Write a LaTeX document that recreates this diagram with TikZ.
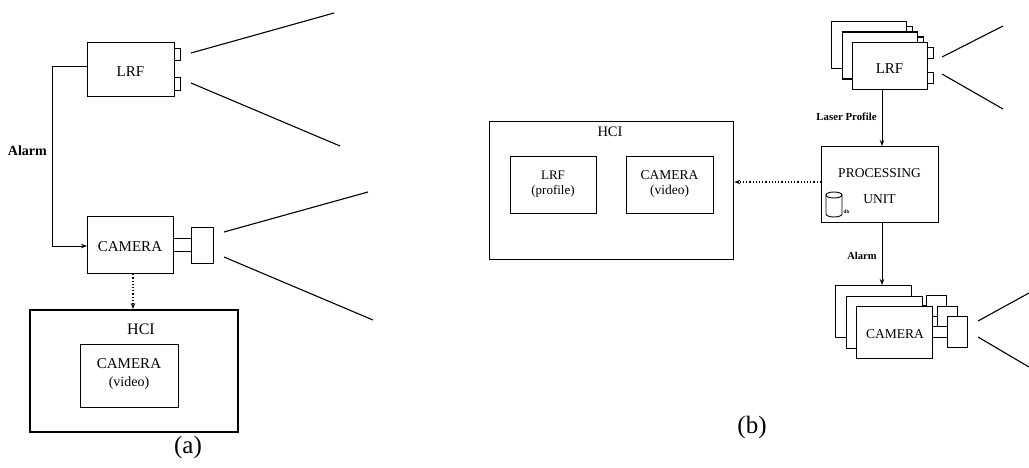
\documentclass[tikz,border=0pt]{standalone}
\usepackage{fontspec}
\setmainfont{Liberation Serif}
\usetikzlibrary{arrows.meta}
\newcommand\fsz[1]{\fontsize{#1}{#1}\selectfont}
\tikzset{
  unitbox/.style={draw, line width=1.2pt, fill=white, inner sep=0pt, anchor=north west},
  lensbox/.style={draw, line width=1.1pt, fill=white, inner sep=0pt, anchor=north west},
  hcibox/.style={draw, line width=1.8pt, fill=white, inner sep=0pt, anchor=north west},
  beam/.style={line width=1.1pt},
  link/.style={line width=0.9pt, -{Stealth[length=6pt,width=4.5pt]}},
  feed/.style={line width=1.1pt, dash pattern=on 1.2pt off 2pt, -{Stealth[length=6pt,width=4.5pt]}},
  lbl/.style={inner sep=0pt, align=center},
}
\begin{document}
\begin{tikzpicture}[x=1pt,y=-1pt]
\useasboundingbox (0,0) rectangle (1029,468);

% ---------------- (a) single sensor pair ----------------
% laser range finder
\node[unitbox, minimum width=87pt, minimum height=54pt] (lrfA) at (87,42) {};
\node[lbl, font=\fsz{15}] at (130.5,72) {LRF};
\node[lensbox, minimum width=6pt, minimum height=12pt] (lrfAl1) at (174,48) {};
\node[lensbox, minimum width=6pt, minimum height=13pt] (lrfAl2) at (174,77) {};
\coordinate (bA1s) at (191,53);  \coordinate (bA1e) at (334,13);
\coordinate (bA2s) at (191,83);  \coordinate (bA2e) at (340,146);
\draw[beam] (bA1s) -- (bA1e);
\draw[beam] (bA2s) -- (bA2e);

% camera
\node[unitbox, minimum width=86pt, minimum height=57pt] (camA) at (87,216) {};
\node[lbl, font=\fsz{15}] at (130,247) {CAMERA};
\node[lensbox, minimum width=18pt, minimum height=13pt] (camAc) at (173,238) {};
\node[lensbox, minimum width=22pt, minimum height=36pt] (camAl) at (191,227) {};
\coordinate (bA3s) at (224,232);  \coordinate (bA3e) at (368,192);
\coordinate (bA4s) at (224,257);  \coordinate (bA4e) at (373,320);
\draw[beam] (bA3s) -- (bA3e);
\draw[beam] (bA4s) -- (bA4e);

% alarm line from range finder to camera
\coordinate (alA1) at (52,66);
\coordinate (alA2) at (52,246);
\draw[link] (lrfA.west |- alA1) -- (alA1) -- (alA2) -- (camA.west |- alA2);
\node[lbl, font=\fsz{14}\bfseries, anchor=east] (alarmA) at (47,151) {Alarm};

% operator interface
\node[hcibox, minimum width=208pt, minimum height=122pt] (hciA) at (29,309) {};
\node[lbl, font=\fsz{16}] at (141,329) {HCI};
\node[unitbox, line width=1.1pt, minimum width=98pt, minimum height=63pt] (hciAcam) at (80,344) {};
\node[lbl, font=\fsz{15}] at (129,364) {CAMERA};
\node[lbl, font=\fsz{14}] at (129,383) {(video)};
\draw[feed] (camA.south -| 133,0) -- (hciA.north -| 133,0);

\node[lbl, font=\fsz{25}] (capA) at (188,447) {(a)};

% ---------------- (b) networked sensors ----------------
% stack of range finders
\foreach \i in {0,1,2}{
  \pgfmathsetmacro{\ox}{831+10.5*\i}
  \pgfmathsetmacro{\oy}{21+10.5*\i}
  \node[unitbox, minimum width=75pt, minimum height=47pt] (lrfS\i) at (\ox,\oy) {};
  \node[lensbox, minimum width=6pt, minimum height=11pt] at (\ox+75,\oy+5) {};
  \node[lensbox, minimum width=6pt, minimum height=11pt] at (\ox+75,\oy+30) {};
}
\node[lbl, font=\fsz{15}] at (889.5,69) {LRF};
\coordinate (bB1s) at (942,57);  \coordinate (bB1e) at (1003,26);
\coordinate (bB2s) at (942,74);  \coordinate (bB2e) at (1003,109);
\draw[beam] (bB1s) -- (bB1e);
\draw[beam] (bB2s) -- (bB2e);

% processing unit
\node[unitbox, line width=1.4pt, minimum width=117pt, minimum height=76pt] (pu) at (821,146) {};
\node[lbl, font=\fsz{13.5}] at (879.5,173) {PROCESSING};
\node[lbl, font=\fsz{13.5}] at (879.5,199) {UNIT};
% database drum
\draw[line width=0.9pt] (826,195) -- (826,214) arc[start angle=180, end angle=0, x radius=8, y radius=3] -- (842,195);
\draw[line width=0.9pt] (834,195) ellipse [x radius=8, y radius=3];
\node[lbl, font=\fsz{5}\bfseries] (db) at (846.5,212) {db};

\draw[link] (lrfS2.south -| 882,0) -- node[lbl, font=\fsz{10.8}\bfseries, anchor=east, pos=0.48, xshift=-5pt] {Laser Profile} (pu.north -| 882,0);

% stack of cameras
\foreach \i in {0,1,2}{
  \pgfmathsetmacro{\ox}{835+10.5*\i}
  \pgfmathsetmacro{\oy}{285+10.5*\i}
  \node[unitbox, minimum width=76pt, minimum height=52pt] (camS\i) at (\ox,\oy) {};
  \node[lensbox, minimum width=15pt, minimum height=11pt] at (\ox+76,\oy+20) {};
  \node[lensbox, minimum width=20pt, minimum height=31pt] (camL\i) at (\ox+91,\oy+10) {};
}
\node[lbl, font=\fsz{13.5}] at (895,334) {CAMERA};
\coordinate (bB3s) at (978,321);  \coordinate (bB3e) at (1029,293);
\coordinate (bB4s) at (978,337);  \coordinate (bB4e) at (1029,367);
\draw[beam] (bB3s) -- (bB3e);
\draw[beam] (bB4s) -- (bB4e);

\draw[link] (pu.south -| 882,0) -- node[lbl, font=\fsz{10.5}\bfseries, anchor=east, pos=0.53, xshift=-5pt] {Alarm} (camS0.north -| 882,0);

% operator interface
\node[unitbox, line width=1.4pt, minimum width=244pt, minimum height=138pt] (hciB) at (489,121) {};
\node[lbl, font=\fsz{14.5}] at (610,132) {HCI};
\node[unitbox, line width=1.1pt, minimum width=86pt, minimum height=57pt] (hciBlrf) at (510,156) {};
\node[lbl, font=\fsz{13}] at (553,175) {LRF};
\node[lbl, font=\fsz{13}] at (553,191) {(profile)};
\node[unitbox, line width=1.1pt, minimum width=87pt, minimum height=57pt] (hciBcam) at (626,156) {};
\node[lbl, font=\fsz{13.5}] at (669.5,175) {CAMERA};
\node[lbl, font=\fsz{13.5}] at (669.5,191) {(video)};
\draw[feed] (pu.west |- 0,182) -- (hciB.east |- 0,182);

\node[lbl, font=\fsz{25}] (capB) at (752,427) {(b)};
\end{tikzpicture}
\end{document}
